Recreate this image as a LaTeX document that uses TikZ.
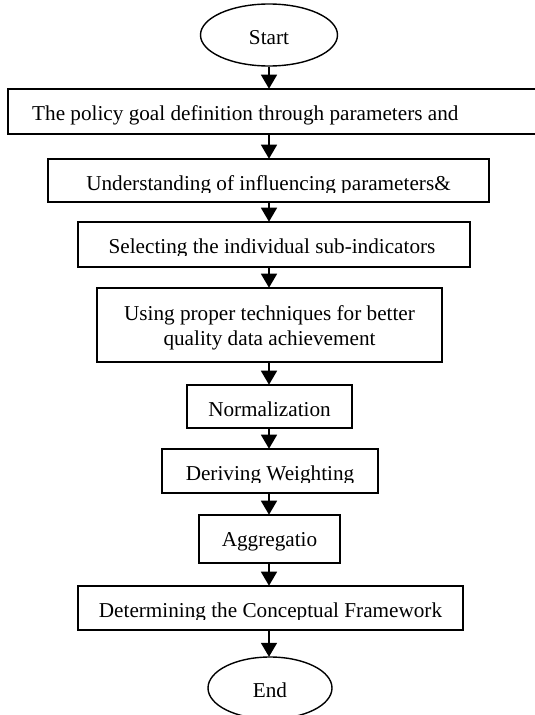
\documentclass[tikz,border=0pt]{standalone}
\usepackage{fontspec}
\setmainfont{Liberation Serif}
\usetikzlibrary{arrows.meta,shapes.geometric}
\tikzset{
  boxnode/.style={draw, line width=1.6pt, rectangle, inner sep=0pt},
  endnode/.style={draw, line width=1.4pt, ellipse, inner sep=0pt},
  lbl/.style={anchor=base, inner sep=0pt, font=\fontsize{21.2}{25}\selectfont},
  flow/.style={line width=1.6pt, -{Triangle[width=16pt,length=14pt]}, shorten >=-0.5pt},
}
\begin{document}
\begin{tikzpicture}[x=1pt,y=-1pt]
\clip (0,0) rectangle (535,715);
\fill[white] (0,0) rectangle (535,715);
% ellipses
\node[endnode, minimum width=137pt, minimum height=62pt] (start) at (269,35) {};
\node[lbl] (tstart) at (269,44) {Start};
% boxes
\node[boxnode, minimum width=540pt, minimum height=45pt] (b1) at (278,111.5) {};
\node[boxnode, minimum width=441pt, minimum height=43pt] (b2) at (268.5,180.5) {};
\node[boxnode, minimum width=392pt, minimum height=45pt] (b3) at (274,244.5) {};
\node[boxnode, minimum width=345pt, minimum height=74pt] (b4) at (269.5,325) {};
\node[boxnode, minimum width=165pt, minimum height=43pt] (b5) at (269.5,406.5) {};
\node[boxnode, minimum width=216pt, minimum height=44pt] (b6) at (270,471) {};
\node[boxnode, minimum width=141pt, minimum height=48pt] (b7) at (269.5,539) {};
\node[boxnode, minimum width=385pt, minimum height=44pt] (b8) at (270.5,608) {};
\node[endnode, minimum width=124pt, minimum height=62pt] (end) at (270,688) {};
\node[lbl] (tend) at (270,697) {End};
% texts
\begin{scope}
\clip (10,90) rectangle (535,125);
\node[lbl, anchor=base west] (t1) at (32,120) {The policy goal definition through parameters and};
\end{scope}
\begin{scope}
\clip (50,160) rectangle (487,192);
\node[lbl] (t2) at (268.5,190) {Understanding of influencing parameters\&};
\end{scope}
\begin{scope}
\clip (80,223) rectangle (468,255.5);
\node[lbl] (t3) at (272,253) {Selecting the individual sub-indicators};
\end{scope}
\node[lbl] (t4a) at (269.5,320) {Using proper techniques for better};
\node[lbl] (t4b) at (269.5,345) {quality data achievement};
\node[lbl] (t5) at (269.5,416) {Normalization};
\begin{scope}
\clip (164,450) rectangle (376,482.5);
\node[lbl] (t6) at (270,480) {Deriving Weighting};
\end{scope}
\node[lbl] (t7) at (269.5,546) {Aggregatio};
\begin{scope}
\clip (80,587) rectangle (461,619.5);
\node[lbl] (t8) at (270.5,617) {Determining the Conceptual Framework};
\end{scope}
% connectors
\draw[flow] (start.south) -- (start.south |- b1.north);
\draw[flow] (start.south |- b1.south) -- (start.south |- b2.north);
\draw[flow] (start.south |- b2.south) -- (start.south |- b3.north);
\draw[flow] (start.south |- b3.south) -- (start.south |- b4.north);
\draw[flow] (start.south |- b4.south) -- (start.south |- b5.north);
\draw[flow] (start.south |- b5.south) -- (start.south |- b6.north);
\draw[flow] (start.south |- b6.south) -- (start.south |- b7.north);
\draw[flow] (start.south |- b7.south) -- (start.south |- b8.north);
\draw[flow] (start.south |- b8.south) -- (start.south |- end.north);
\end{tikzpicture}
\end{document}
